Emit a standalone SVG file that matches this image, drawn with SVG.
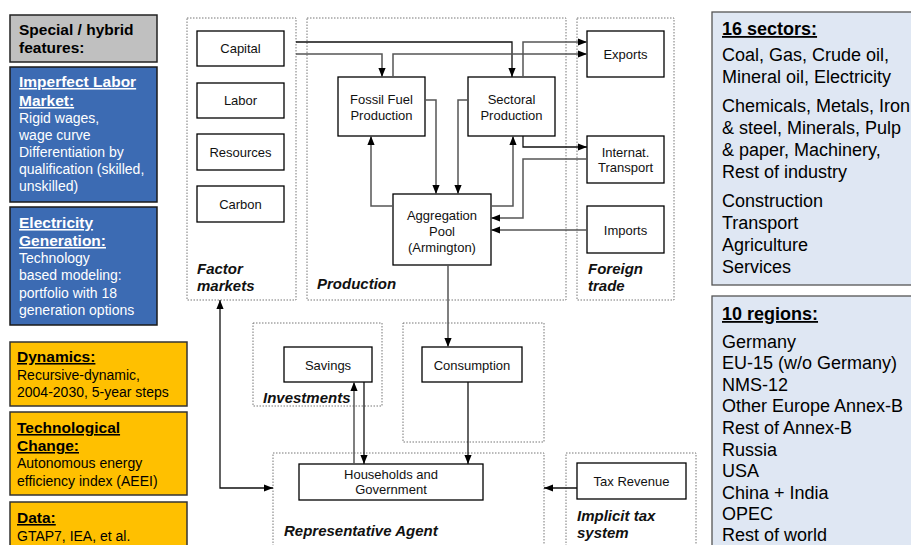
<svg xmlns="http://www.w3.org/2000/svg" width="911" height="545" viewBox="0 0 911 545">
<defs>
<marker id="ah" viewBox="0 0 10 8" refX="10" refY="4" markerWidth="9" markerHeight="8" markerUnits="userSpaceOnUse" orient="auto-start-reverse"><path d="M0,0 L10,4 L0,8 z" fill="#000"/></marker>
</defs>
<style>
text{font-family:"Liberation Sans",Arial,sans-serif}
.node rect{fill:#fff;stroke:#000;stroke-width:1.3}
.node text{font-size:13px;text-anchor:middle;fill:#111}
.grp{fill:none;stroke:#777;stroke-width:1;stroke-dasharray:1.5 1.5}
.gl{font-size:15px;font-weight:bold;font-style:italic;fill:#111}
.k{fill:none;stroke:#111;stroke-width:1.3;marker-end:url(#ah)}
.g{fill:none;stroke:#555;stroke-width:1.5;marker-end:url(#ah)}
.hd{font-size:15.5px;font-weight:bold;text-decoration:underline}
.bd{font-size:14px}
.rt{font-size:18px;fill:#000}
</style>
<rect width="911" height="545" fill="#fff"/>

<!-- Left panels -->
<g id="special">
<rect x="10" y="15" width="147" height="47" fill="#c0c0c0" stroke="#222" stroke-width="1.5"/>
<text x="19" y="35" font-size="15.5" font-weight="bold" fill="#000">Special / hybrid</text>
<text x="19" y="53" font-size="15.5" font-weight="bold" fill="#000">features:</text>
</g>
<g id="labor-market" fill="#fff">
<rect x="10" y="67" width="147" height="135" fill="#3c6bb3" stroke="#1a1a1a" stroke-width="1.5"/>
<text x="19" y="87" class="hd">Imperfect Labor</text>
<text x="19" y="106" class="hd">Market:</text>
<text x="19" y="123" class="bd">Rigid wages,</text>
<text x="19" y="140" class="bd">wage curve</text>
<text x="19" y="157" class="bd">Differentiation by</text>
<text x="19" y="174" class="bd">qualification (skilled,</text>
<text x="19" y="191" class="bd">unskilled)</text>
</g>
<g id="electricity" fill="#fff">
<rect x="10" y="207" width="147" height="118" fill="#3c6bb3" stroke="#1a1a1a" stroke-width="1.5"/>
<text x="19" y="228" class="hd">Electricity</text>
<text x="19" y="246" class="hd">Generation:</text>
<text x="19" y="263" class="bd">Technology</text>
<text x="19" y="280" class="bd">based modeling:</text>
<text x="19" y="298" class="bd">portfolio with 18</text>
<text x="19" y="315" class="bd">generation options</text>
</g>
<g id="dynamics" fill="#000">
<rect x="10" y="342" width="177" height="64" fill="#ffc000" stroke="#333" stroke-width="1.5"/>
<text x="17" y="362" class="hd">Dynamics:</text>
<text x="17" y="380" class="bd">Recursive-dynamic,</text>
<text x="17" y="397" class="bd">2004-2030, 5-year steps</text>
</g>
<g id="tech-change" fill="#000">
<rect x="10" y="412" width="177" height="83" fill="#ffc000" stroke="#333" stroke-width="1.5"/>
<text x="17" y="433" class="hd">Technological</text>
<text x="17" y="451" class="hd">Change:</text>
<text x="17" y="468" class="bd">Autonomous energy</text>
<text x="17" y="486" class="bd">efficiency index (AEEI)</text>
</g>
<g id="data" fill="#000">
<rect x="10" y="502" width="177" height="60" fill="#ffc000" stroke="#333" stroke-width="1.5"/>
<text x="17" y="523" class="hd">Data:</text>
<text x="17" y="541" class="bd">GTAP7, IEA, et al.</text>
</g>

<!-- Right panels -->
<g id="sectors">
<rect x="712" y="12" width="210" height="273" fill="#dfe7f3" stroke="#555" stroke-width="1.3"/>
<text x="722" y="35" class="rt" font-weight="bold" text-decoration="underline">16 sectors:</text>
<text x="722" y="61" class="rt">Coal, Gas, Crude oil,</text>
<text x="722" y="83" class="rt">Mineral oil, Electricity</text>
<text x="722" y="112" class="rt">Chemicals, Metals, Iron</text>
<text x="722" y="134" class="rt">&amp; steel, Minerals, Pulp</text>
<text x="722" y="156" class="rt">&amp; paper, Machinery,</text>
<text x="722" y="178" class="rt">Rest of industry</text>
<text x="722" y="207" class="rt">Construction</text>
<text x="722" y="229" class="rt">Transport</text>
<text x="722" y="251" class="rt">Agriculture</text>
<text x="722" y="273" class="rt">Services</text>
</g>
<g id="regions">
<rect x="712" y="296" width="210" height="260" fill="#dfe7f3" stroke="#555" stroke-width="1.3"/>
<text x="722" y="320" class="rt" font-weight="bold" text-decoration="underline">10 regions:</text>
<text x="722" y="348" class="rt">Germany</text>
<text x="722" y="369" class="rt">EU-15 (w/o Germany)</text>
<text x="722" y="391" class="rt">NMS-12</text>
<text x="722" y="412" class="rt">Other Europe Annex-B</text>
<text x="722" y="434" class="rt">Rest of Annex-B</text>
<text x="722" y="456" class="rt">Russia</text>
<text x="722" y="477" class="rt">USA</text>
<text x="722" y="499" class="rt">China + India</text>
<text x="722" y="520" class="rt">OPEC</text>
<text x="722" y="541" class="rt">Rest of world</text>
</g>

<!-- Group containers -->
<g id="factor-markets"><rect class="grp" x="187" y="18" width="109" height="282"/><text class="gl" x="197" y="274">Factor</text><text class="gl" x="197" y="291">markets</text></g>
<g id="production"><rect class="grp" x="307" y="18" width="259" height="282"/><text class="gl" x="317" y="289">Production</text></g>
<g id="foreign-trade"><rect class="grp" x="577" y="18" width="97" height="282"/><text class="gl" x="588" y="274">Foreign</text><text class="gl" x="588" y="291">trade</text></g>
<g id="investments"><rect class="grp" x="253" y="323" width="129" height="83"/><text class="gl" x="263" y="403">Investments</text></g>
<g id="consumption-area"><rect class="grp" x="403" y="323" width="141" height="119"/></g>
<g id="representative-agent"><rect class="grp" x="273" y="453" width="271" height="110"/><text class="gl" x="284" y="536">Representative Agent</text></g>
<g id="implicit-tax"><rect class="grp" x="566" y="453" width="130" height="110"/><text class="gl" x="577" y="521">Implicit tax</text><text class="gl" x="577" y="538">system</text></g>

<!-- Nodes -->
<g id="capital" class="node"><rect x="197" y="31" width="87" height="35"/><text x="240.5" y="53">Capital</text></g>
<g id="labor" class="node"><rect x="197" y="83" width="87" height="35"/><text x="240.5" y="105">Labor</text></g>
<g id="resources" class="node"><rect x="197" y="134" width="87" height="36"/><text x="240.5" y="157">Resources</text></g>
<g id="carbon" class="node"><rect x="197" y="186" width="87" height="36"/><text x="240.5" y="209">Carbon</text></g>
<g id="fossil" class="node"><rect x="338" y="77" width="87" height="59"/><text x="381.5" y="104">Fossil Fuel</text><text x="381.5" y="120">Production</text></g>
<g id="sectoral" class="node"><rect x="468" y="77" width="87" height="59"/><text x="511.5" y="104">Sectoral</text><text x="511.5" y="120">Production</text></g>
<g id="aggregation" class="node"><rect x="393" y="194" width="98" height="71"/><text x="442" y="220">Aggregation</text><text x="442" y="236">Pool</text><text x="442" y="252">(Armington)</text></g>
<g id="exports" class="node"><rect x="587" y="31" width="77" height="46"/><text x="625.5" y="59">Exports</text></g>
<g id="transport" class="node"><rect x="587" y="136" width="77" height="47"/><text x="625.5" y="157">Internat.</text><text x="625.5" y="172">Transport</text></g>
<g id="imports" class="node"><rect x="587" y="206" width="77" height="47"/><text x="625.5" y="235">Imports</text></g>
<g id="savings" class="node"><rect x="284" y="347" width="88" height="35"/><text x="328" y="370">Savings</text></g>
<g id="consumption" class="node"><rect x="422" y="347" width="100" height="35"/><text x="472" y="370">Consumption</text></g>
<g id="households" class="node"><rect x="299" y="464" width="184" height="36"/><text x="391" y="479">Households and</text><text x="391" y="494">Government</text></g>
<g id="tax-revenue" class="node"><rect x="577" y="463" width="109" height="36"/><text x="631.5" y="486">Tax Revenue</text></g>

<!-- Connectors -->
<g id="connectors">
<path class="k" d="M296,42 H512 V77"/>
<path class="g" d="M296,54 H382 V77"/>
<path class="g" d="M393,77 V54 H587"/>
<path class="g" d="M523,77 V42 H587"/>
<path class="g" d="M425,100 H436 V194"/>
<path class="g" d="M468,100 H458 V194"/>
<path class="g" d="M393,206 H371 V136"/>
<path class="g" d="M491,206 H513 V136"/>
<path class="k" d="M523,136 V147 H587"/>
<path class="g" d="M587,159 H523 V218 H491"/>
<path class="g" d="M587,230 H491"/>
<path class="g" d="M448,265 V347"/>
<path class="k" d="M468,382 V464"/>
<path class="g" d="M354,464 V382"/>
<path class="k" d="M364,382 V464"/>
<path class="k" d="M220,300 V488 H273" marker-start="url(#ah)"/>
<path class="k" d="M577,488 H544"/>
</g>
</svg>
